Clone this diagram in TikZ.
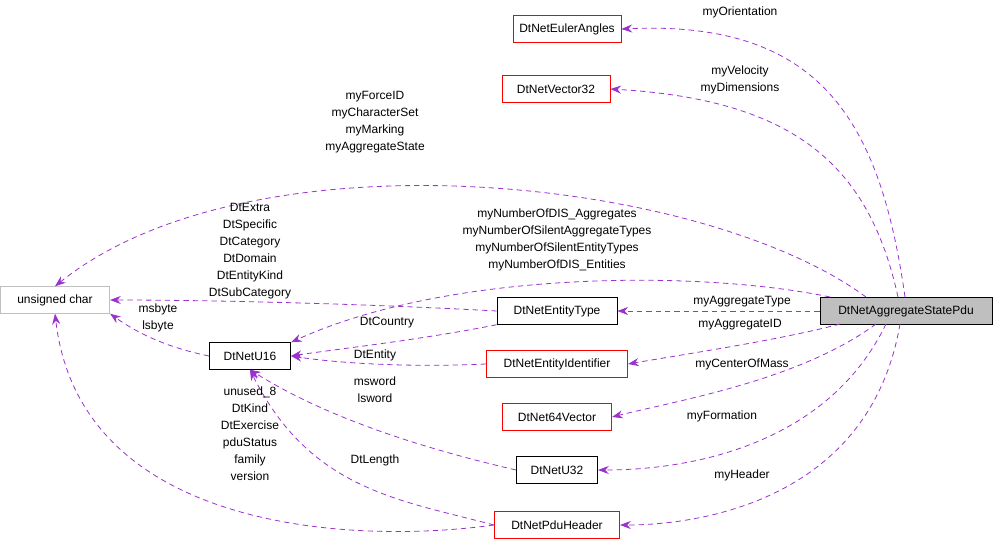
\documentclass[tikz,border=0pt]{standalone}
\usepackage{fontspec}
\setmainfont{Liberation Sans}
\usetikzlibrary{arrows.meta}
\definecolor{edgec}{RGB}{154,50,205}
\definecolor{gry}{RGB}{191,191,191}
\begin{document}
\begin{tikzpicture}[x=0.75pt,y=-0.75pt,font=\fontsize{9}{12.8}\selectfont,
 box/.style={draw=#1,fill=white,minimum height=20pt,inner xsep=4pt,line width=0.6pt},
 e/.style={draw=edgec,line width=0.6pt,dash pattern=on 4pt off 3pt,
   -{Stealth[length=8pt,width=6pt,fill=edgec,sep=0pt]}},
 lb/.style={align=center,inner sep=0pt}]
\useasboundingbox (0,0) rectangle (997,545);
\node[box=black,fill=gry,minimum width=129pt] (agg) at (906,311) {DtNetAggregateStatePdu};
\node[box=red,minimum width=81pt] (eul) at (567,29) {DtNetEulerAngles};
\node[box=red,minimum width=81pt] (v32) at (556,89) {DtNetVector32};
\node[box=gry,minimum width=82pt] (uc) at (55,300) {unsigned char};
\node[box=black,minimum width=90pt] (et) at (557,311) {DtNetEntityType};
\node[box=black,minimum width=61pt] (u16) at (250,356) {DtNetU16};
\node[box=red,minimum width=106pt] (eid) at (557,364) {DtNetEntityIdentifier};
\node[box=red,minimum width=82pt] (v64) at (557,417) {DtNet64Vector};
\node[box=black,minimum width=61pt] (u32) at (557,470) {DtNetU32};
\node[box=red,minimum width=94pt] (pdu) at (557,525) {DtNetPduHeader};

\coordinate (a1) at (905,297); \coordinate (a2) at (898,297);
\coordinate (a3) at (866,297); \coordinate (a4) at (830,297);
\coordinate (a5) at (840,324); \coordinate (a6) at (876,324);
\coordinate (a7) at (886,324); \coordinate (a8) at (900,324);
\draw[e] (a1) .. controls (880,120) and (820,20) .. (eul.east);
\draw[e] (a2) .. controls (870,170) and (800,100) .. (v32.east);
\draw[e] (a3) .. controls (700,175) and (250,130) .. (uc.north);
\draw[e] (a4) .. controls (700,270) and (450,270) .. (u16.north east);
\draw[e] (agg.west) -- (et.east);
\draw[e] (a5) .. controls (780,340) and (680,355) .. (eid.east);
\draw[e] (a6) .. controls (800,380) and (680,400) .. (v64.east);
\draw[e] (a7) .. controls (830,440) and (700,470) .. (u32.east);
\draw[e] (a8) .. controls (870,500) and (700,525) .. (pdu.east);
\draw[e] (et.west) .. controls (350,303) and (200,300) .. (uc.east);
\draw[e] (et.south west) .. controls (420,340) and (330,350) .. (u16.east);
\draw[e] (eid.west) .. controls (400,368) and (330,362) .. (u16.east);
\draw[e] (u16.west) .. controls (170,348) and (140,335) .. (uc.south east);
\draw[e] (u32.west) .. controls (430,450) and (330,420) .. (u16.south);
\draw[e] (pdu.west) .. controls (400,500) and (310,490) .. (u16.south);
\draw[e] (pdu.west) .. controls (350,545) and (80,530) .. (uc.south);

\node[lb] at (740,12) {myOrientation};
\node[lb] at (740,80) {myVelocity\\myDimensions};
\node[lb] at (375,122) {myForceID\\myCharacterSet\\myMarking\\myAggregateState};
\node[lb] at (557,240) {myNumberOfDIS\_Aggregates\\myNumberOfSilentAggregateTypes\\myNumberOfSilentEntityTypes\\myNumberOfDIS\_Entities};
\node[lb] at (742,302) {myAggregateType};
\node[lb] at (740,325) {myAggregateID};
\node[lb] at (742,364) {myCenterOfMass};
\node[lb] at (722,416) {myFormation};
\node[lb] at (742,475) {myHeader};
\node[lb] at (250,251) {DtExtra\\DtSpecific\\DtCategory\\DtDomain\\DtEntityKind\\DtSubCategory};
\node[lb] at (387,323) {DtCountry};
\node[lb] at (375,355) {DtEntity};
\node[lb] at (158,318) {msbyte\\lsbyte};
\node[lb] at (375,390) {msword\\lsword};
\node[lb] at (375,460) {DtLength};
\node[lb] at (250,434) {unused\_8\\DtKind\\DtExercise\\pduStatus\\family\\version};
\end{tikzpicture}
\end{document}
